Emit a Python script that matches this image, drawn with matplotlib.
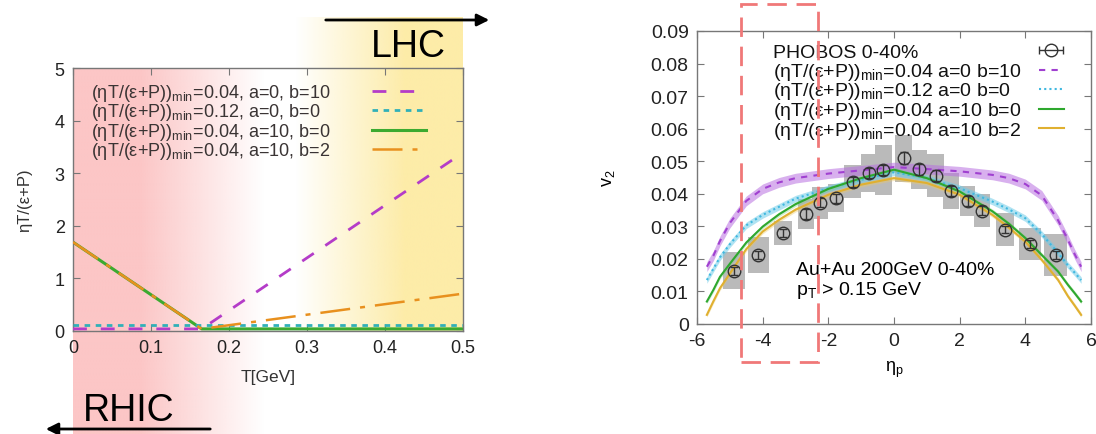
import numpy as np
import matplotlib
matplotlib.use('Agg')
import matplotlib.pyplot as plt
from matplotlib.patches import Rectangle
import matplotlib.transforms as mtransforms

plt.rcParams['font.family'] = ['Liberation Sans', 'DejaVu Sans']
plt.rcParams['mathtext.fontset'] = 'custom'
plt.rcParams['mathtext.rm'] = 'Liberation Sans'
plt.rcParams['mathtext.it'] = 'Liberation Sans:italic'

# left panel: eta T/(e+P) vs T, piecewise linear
T_knots = [0.0, 0.165, 0.5]
visc_a0_b10 = [0.04, 0.04, 3.39]
visc_012 = [0.12, 0.12, 0.12]
visc_a10_b0 = [1.69, 0.04, 0.04]
visc_a10_b2 = [1.69, 0.04, 0.71]

# right panel: v2(eta_p)
eta_grid = [-5.7, -5.5, -5.3, -5.0, -4.5, -4.0, -3.5, -3.0, -2.0, -1.0, 0.0,
            1.0, 2.0, 3.0, 3.5, 4.0, 4.5, 5.0, 5.3, 5.5, 5.7]
v2_a0_b10 = [0.0176, 0.0210, 0.0255, 0.0310, 0.0378, 0.0415, 0.0435, 0.0448, 0.0462, 0.0472, 0.0482,
             0.0476, 0.0469, 0.0458, 0.0448, 0.0430, 0.0395, 0.0318, 0.0258, 0.0215, 0.0176]
v2_012 = [0.0135, 0.0170, 0.0205, 0.0245, 0.0303, 0.0335, 0.0360, 0.0385, 0.0417, 0.0443, 0.0466,
          0.0448, 0.0417, 0.0376, 0.0352, 0.0325, 0.0276, 0.0218, 0.0180, 0.0158, 0.0135]
v2_a10_b0 = [0.0069, 0.0105, 0.0145, 0.0185, 0.0250, 0.0299, 0.0337, 0.0368, 0.0415, 0.0448, 0.0474,
             0.0448, 0.0407, 0.0346, 0.0308, 0.0264, 0.0212, 0.0161, 0.0120, 0.0095, 0.0069]
v2_a10_b2 = [0.0028, 0.0070, 0.0110, 0.0155, 0.0230, 0.0284, 0.0320, 0.0351, 0.0397, 0.0428, 0.0448,
             0.0433, 0.0397, 0.0335, 0.0296, 0.0253, 0.0197, 0.0135, 0.0085, 0.0057, 0.0028]
band_width = [0.0015, 0.0010, 0.0007, 0.0007]

# PHOBOS 0-40%
phobos_eta = [-4.88, -4.13, -3.38, -2.68, -2.25, -1.76, -1.25, -0.75, -0.32,
              0.29, 0.77, 1.27, 1.74, 2.25, 2.69, 3.38, 4.14, 4.93]
phobos_v2 = [0.0164, 0.0212, 0.0280, 0.0338, 0.0372, 0.0386, 0.0437, 0.0464, 0.0473,
             0.0509, 0.0476, 0.0456, 0.0408, 0.0377, 0.0348, 0.0290, 0.0246, 0.0212]
phobos_stat = [0.0012, 0.0012, 0.0012, 0.0014, 0.0014, 0.0014, 0.0015, 0.0015, 0.0016,
               0.0018, 0.0017, 0.0017, 0.0015, 0.0015, 0.0014, 0.0012, 0.0012, 0.0012]
phobos_sys = [0.0056, 0.0056, 0.0037, 0.0046, 0.0048, 0.0043, 0.0051, 0.0059, 0.0078,
              0.0072, 0.0060, 0.0065, 0.0056, 0.0046, 0.0050, 0.0050, 0.0048, 0.0064]
phobos_hw = [0.33, 0.32, 0.28, 0.25, 0.25, 0.25, 0.26, 0.25, 0.25,
             0.25, 0.25, 0.25, 0.24, 0.23, 0.24, 0.28, 0.33, 0.35]

labels_left = [r'(ηT/(ε+P))$_\mathrm{min}$=0.04, a=0, b=10',
               r'(ηT/(ε+P))$_\mathrm{min}$=0.12, a=0, b=0',
               r'(ηT/(ε+P))$_\mathrm{min}$=0.04, a=10, b=0',
               r'(ηT/(ε+P))$_\mathrm{min}$=0.04, a=10, b=2']
labels_right = ['PHOBOS 0-40%',
                r'(ηT/(ε+P))$_\mathrm{min}$=0.04 a=0 b=10',
                r'(ηT/(ε+P))$_\mathrm{min}$=0.12 a=0 b=0',
                r'(ηT/(ε+P))$_\mathrm{min}$=0.04 a=10 b=0',
                r'(ηT/(ε+P))$_\mathrm{min}$=0.04 a=10 b=2']

W, H = 1096, 435
fig = plt.figure(figsize=(W / 100, H / 100), dpi=100)

# background gradients (pixel coords)
bg = fig.add_axes([0, 0, 1, 1])
bg.set_xlim(0, W)
bg.set_ylim(H, 0)
bg.axis('off')
xs = np.linspace(0, 1, 256)
pink = np.ones((1, 256, 4))
pink[..., :3] = np.array([252, 198, 198]) / 255
pink[0, :, 3] = np.clip((265 - (73 + xs * 192)) / (265 - 140), 0, 1)
bg.imshow(pink, extent=[73, 265, 435, 69], aspect='auto', interpolation='bilinear')
yel = np.ones((1, 256, 4))
yel[..., :3] = np.array([253, 236, 168]) / 255
yel[0, :, 3] = np.clip((xs * 168) / (405 - 295), 0, 1)
bg.imshow(yel, extent=[295, 463, 332, 18], aspect='auto', interpolation='bilinear')
bg.annotate('', xy=(492, 21), xytext=(323, 21),
            arrowprops=dict(arrowstyle='-|>', color='black', lw=2, mutation_scale=18))
bg.annotate('', xy=(43, 430), xytext=(213, 430),
            arrowprops=dict(arrowstyle='-|>', color='black', lw=2, mutation_scale=18))
bg.text(408, 47, 'LHC', fontsize=27, ha='center', va='center')
bg.text(129, 411, 'RHIC', fontsize=27, ha='center', va='center')

spine_c = '#777777'

def style_axes(ax, size):
    for s in ax.spines.values():
        s.set_color(spine_c)
        s.set_linewidth(1.0)
    ax.tick_params(direction='in', length=5, color=spine_c, top=True, right=True,
                   labelsize=size, labelcolor='#222222', pad=6)

# left panel
L = dict(x0=73, x1=463, y0=69, y1=332)
ax1 = fig.add_axes([L['x0'] / W, 1 - L['y1'] / H, (L['x1'] - L['x0']) / W, (L['y1'] - L['y0']) / H])
ax1.set_facecolor('none')
style_axes(ax1, 13)
left_styles = [dict(color='#b43cc8', lw=2, dashes=(5, 5), zorder=3),
               dict(color='#30b0b8', lw=2, dashes=(2, 2), zorder=3),
               dict(color='#3caa30', lw=2.2, zorder=2),
               dict(color='#e8901e', lw=1.8, dashes=(12, 4, 2, 4), zorder=4)]
for vals, st in zip([visc_a0_b10, visc_012, visc_a10_b0, visc_a10_b2], left_styles):
    ax1.plot(T_knots, vals, **st)
ax1.set_xlim(0, 0.5)
ax1.set_ylim(0, 5)
ax1.set_xticks([0, 0.1, 0.2, 0.3, 0.4, 0.5])
ax1.set_xticklabels(['0', '0.1', '0.2', '0.3', '0.4', '0.5'])
ax1.set_yticks([0, 1, 2, 3, 4, 5])
ax1.set_xlabel('T[GeV]', fontsize=12.5, color='#333333', labelpad=9)
ax1.set_ylabel('ηT/(ε+P)', fontsize=12, color='#333333', labelpad=16)

# left key: text left-aligned, samples in a column to the right
def fx(px, P):
    return (px - P['x0']) / (P['x1'] - P['x0'])

def fy(py, P):
    return (P['y1'] - py) / (P['y1'] - P['y0'])

rows_left = [92, 111, 131, 150]
for lab, py, st in zip(labels_left, rows_left, left_styles):
    ax1.text(fx(91, L), fy(py + 6, L), lab, transform=ax1.transAxes, fontsize=13,
             color='#3a3434', ha='left', va='baseline')
    st2 = dict(st)
    st2['zorder'] = 5
    ax1.plot([fx(372, L), fx(426, L)], [fy(py, L)] * 2, transform=ax1.transAxes, **st2)

# right panel
R = dict(x0=697, x1=1091, y0=32, y1=325)
ax2 = fig.add_axes([R['x0'] / W, 1 - R['y1'] / H, (R['x1'] - R['x0']) / W, (R['y1'] - R['y0']) / H])
style_axes(ax2, 14)
ax2.bar(phobos_eta, [2 * s for s in phobos_sys], width=[2 * h for h in phobos_hw],
        bottom=[v - s for v, s in zip(phobos_v2, phobos_sys)], color='#bababa',
        edgecolor='none', zorder=1)
curves = [v2_a0_b10, v2_012, v2_a10_b0, v2_a10_b2]
line_c = ['#a040d0', '#40b8e0', '#2ea82e', '#e0b030']
fill_c = ['#b870e0', '#70cce8', '#7ccc7c', '#ecc868']
fill_a = [0.55, 0.55, 0.35, 0.4]
styles = [dict(dashes=(3, 3)), dict(dashes=(1, 1.5)), dict(), dict()]
for vals, lc, fc, fa, bw, st in zip(curves, line_c, fill_c, fill_a, band_width, styles):
    v = np.array(vals)
    ax2.fill_between(eta_grid, v - bw, v + bw, color=fc, alpha=fa, lw=0, zorder=2)
    ax2.plot(eta_grid, v, color=lc, lw=1.5, zorder=3, **st)
ax2.errorbar(phobos_eta, phobos_v2, yerr=phobos_stat, fmt='o', ms=9, mfc='none',
             mec='#333333', ecolor='#333333', elinewidth=1, capsize=3, mew=1, zorder=4)
ax2.set_xlim(-6, 6)
ax2.set_ylim(0, 0.09)
ax2.set_xticks([-6, -4, -2, 0, 2, 4, 6])
ax2.set_xticklabels(['-6', '-4', '-2', '0', '2', '4', '6'])
ax2.set_yticks(np.arange(0, 0.091, 0.01))
ax2.set_yticklabels(['0', '0.01', '0.02', '0.03', '0.04', '0.05', '0.06', '0.07', '0.08', '0.09'])
ax2.set_xlabel(r'η$_\mathrm{p}$', fontsize=13, labelpad=7)
ax2.set_ylabel(r'v$_2$', fontsize=13, labelpad=24)

# right key
rows_right = [51, 71, 90, 110, 129]
for lab, py in zip(labels_right, rows_right):
    ax2.text(fx(773, R), fy(py + 6.5, R), lab, transform=ax2.transAxes, fontsize=14,
             color='#111111', ha='left', va='baseline')
ax2.errorbar([fx(1051, R)], [fy(rows_right[0], R)], xerr=[fx(1063, R) - fx(1051, R)],
             fmt='o', ms=9, mfc='none', mec='#333333', ecolor='#333333', elinewidth=1,
             capsize=3, mew=1, transform=ax2.transAxes, clip_on=False, zorder=6)
for lc, st, py in zip(line_c, styles, rows_right[1:]):
    ax2.plot([fx(1039, R), fx(1064, R)], [fy(py, R)] * 2, transform=ax2.transAxes,
             color=lc, lw=1.5, zorder=6, **st)

ax2.text(fx(796, R), fy(271, R), 'Au+Au 200GeV 0-40%', transform=ax2.transAxes,
         fontsize=14, ha='left', va='center')
ax2.text(fx(796, R), fy(291, R), r'p$_\mathrm{T}$ > 0.15 GeV', transform=ax2.transAxes,
         fontsize=14, ha='left', va='center')

# highlighted eta window
box_eta = [-4.65, -2.3]
trans = mtransforms.blended_transform_factory(ax2.transData, ax2.transAxes)
ax2.add_patch(Rectangle((box_eta[0], fy(363, R)), box_eta[1] - box_eta[0], fy(5, R) - fy(363, R),
                        transform=trans, fill=False, edgecolor='#f07878', lw=2,
                        ls=(0, (7, 3.5)), clip_on=False, zorder=7))

fig.savefig('out.png', dpi=100)
